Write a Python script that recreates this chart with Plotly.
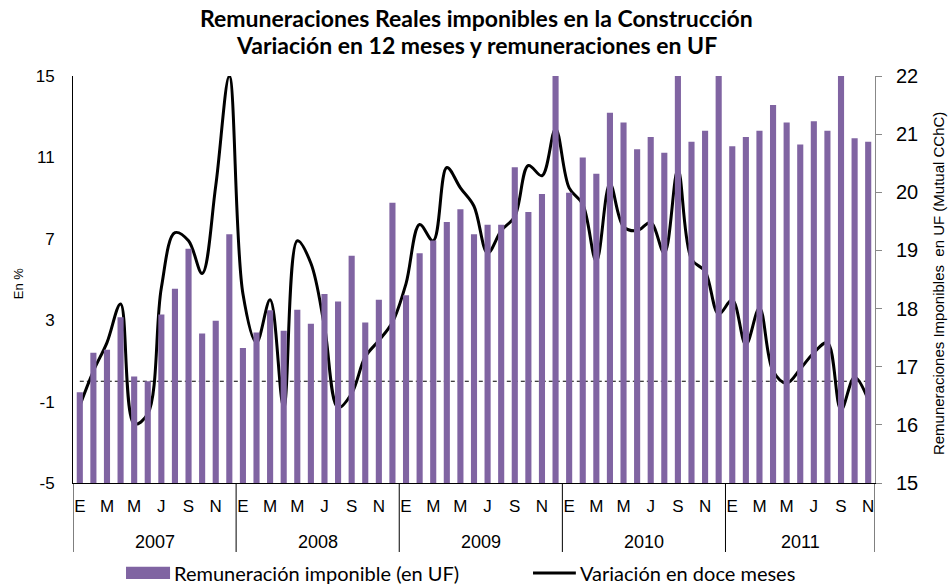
import plotly.graph_objects as go

years = ["2007", "2008", "2009", "2010", "2011"]
month_letters = ["E", "F", "M", "A", "M", "J", "J", "A", "S", "O", "N", "D"]
n_months = 59  # Jan 2007 .. Nov 2011
left_ticks = [-5, -1, 3, 7, 11, 15]
left_ticktext = ["-5", "-1", "3", "7", "11", "15"]

# Remuneración imponible (en UF) - right axis
remuneracion = [
    16.56, 17.24, 17.29, 17.85, 16.83, 16.75, 17.90, 18.34, 19.03, 17.57, 17.79, 19.28,
    17.32, 17.59, 17.97, 17.62, 17.98, 17.74, 18.25, 18.12, 18.91, 17.76, 18.15, 19.82,
    18.23, 18.95, 19.17, 19.49, 19.71, 19.28, 19.44, 19.44, 20.43, 19.66, 19.97, 22.30,
    19.99, 20.60, 20.32, 21.37, 21.20, 20.74, 20.95, 20.68, 22.30, 20.87, 21.06, 22.30,
    20.79, 20.95, 21.06, 21.50, 21.20, 20.82, 21.22, 21.06, 22.30, 20.93, 20.87,
]

# Variación en doce meses (%) - left axis
variacion = [
    -1.2, 0.5, 1.9, 3.8, -2.1, -1.6, 4.6, 7.3, 6.9, 5.3, 9.6, 15.0,
    4.3, 1.9, 4.0, -1.3, 6.9, 5.8, 2.7, -1.3, -0.6, 1.2, 2.0, 2.9,
    4.8, 7.7, 6.9, 10.5, 9.5, 8.6, 6.3, 7.4, 8.1, 10.6, 10.1, 12.4,
    9.5, 8.7, 5.9, 9.7, 7.6, 7.4, 7.8, 6.3, 10.4, 6.0, 5.4, 3.3,
    4.0, 1.8, 3.6, 0.5, -0.1, 0.6, 1.4, 1.9, -1.4, 0.2, -0.9,
]

referencia = [0] * n_months

x_idx = list(range(n_months))
tickvals = [i for i in x_idx if (i % 12) % 2 == 0]
ticktext = [month_letters[i % 12] for i in tickvals]

purple = "#8064A2"
arial = "Liberation Sans, Arial, sans-serif"
calib = "Lato, Carlito, Calibri, sans-serif"

fig = go.Figure()
fig.add_trace(go.Bar(
    x=x_idx, y=remuneracion, yaxis="y2", name="Remuneración imponible (en UF)",
    marker=dict(color=purple, line=dict(width=0)), width=0.45, showlegend=False,
))
fig.add_trace(go.Scatter(
    x=x_idx, y=referencia, mode="lines", showlegend=False,
    line=dict(color="black", width=1.2, dash="4px,3px"), hoverinfo="skip",
))
fig.add_trace(go.Scatter(
    x=x_idx, y=variacion, mode="lines", name="Variación en doce meses", showlegend=False,
    line=dict(color="black", width=3, shape="spline", smoothing=1.0),
))

shapes = []
annotations = []
for k, yr in enumerate(years):
    start = k * 12 - 0.5
    end = min(k * 12 + 11.5, n_months - 0.5)
    shapes.append(dict(type="line", xref="x", yref="paper", x0=start, x1=start,
                       y0=0, y1=-0.1695, line=dict(color="black", width=1)))
    annotations.append(dict(x=(start + end) / 2, y=-0.145, xref="x", yref="paper",
                            text=yr, showarrow=False, yanchor="middle",
                            font=dict(family=arial, size=18, color="black")))
shapes.append(dict(type="line", xref="x", yref="paper", x0=n_months - 0.5, x1=n_months - 0.5,
                   y0=0, y1=-0.1695, line=dict(color="black", width=1)))

# Titles
annotations.append(dict(x=0.5037, y=1.1425, xref="paper", yref="paper",
                        text="<b>Remuneraciones Reales imponibles en la Construcción</b>",
                        showarrow=False, xanchor="center", yanchor="middle",
                        font=dict(family=calib, size=23, color="black")))
annotations.append(dict(x=0.5037, y=1.0762, xref="paper", yref="paper",
                        text="<b>Variación en 12 meses y remuneraciones en UF</b>",
                        showarrow=False, xanchor="center", yanchor="middle",
                        font=dict(family=calib, size=23, color="black")))

# Axis titles
annotations.append(dict(x=-0.0686, y=0.491, xref="paper", yref="paper", text="En %",
                        showarrow=False, textangle=-90, xanchor="center", yanchor="middle",
                        font=dict(family=arial, size=13, color="black")))
annotations.append(dict(x=1.0785, y=0.491, xref="paper", yref="paper",
                        text="Remuneraciones Imponibles  en UF (Mutual CChC)",
                        showarrow=False, textangle=-90, xanchor="center", yanchor="middle",
                        font=dict(family=arial, size=15, color="black")))

# Custom legend
shapes.append(dict(type="rect", xref="paper", yref="paper", x0=0.0661, x1=0.121,
                   y0=-0.206, y1=-0.236, fillcolor=purple, line=dict(width=0)))
annotations.append(dict(x=0.1234, y=-0.221, xref="paper", yref="paper",
                        text="Remuneración imponible (en UF)", showarrow=False,
                        xanchor="left", yanchor="middle",
                        font=dict(family=calib, size=20, color="black")))
shapes.append(dict(type="line", xref="paper", yref="paper", x0=0.5736, x1=0.627,
                   y0=-0.221, y1=-0.221, line=dict(color="black", width=3)))
annotations.append(dict(x=0.6297, y=-0.221, xref="paper", yref="paper",
                        text="Variación en doce meses", showarrow=False,
                        xanchor="left", yanchor="middle",
                        font=dict(family=calib, size=20, color="black")))

fig.update_layout(
    width=949, height=585,
    margin=dict(l=73, r=74, t=76, b=102, autoexpand=False),
    paper_bgcolor="white", plot_bgcolor="white",
    xaxis=dict(range=[-0.5, n_months - 0.5], tickvals=tickvals, ticktext=ticktext,
               showgrid=False, showline=True, linecolor="black", linewidth=1,
               ticks="", tickfont=dict(family=arial, size=17, color="black"),
               ticklabelstandoff=8, zeroline=False, automargin=False),
    yaxis=dict(range=[-5, 15], tickvals=left_ticks, ticktext=left_ticktext, showgrid=False,
               showline=True, linecolor="black", linewidth=1, ticks="",
               tickfont=dict(family=arial, size=17, color="black"), zeroline=False,
               ticklabelstandoff=14, automargin=False),
    yaxis2=dict(range=[15, 22], dtick=1, overlaying="y", side="right", showgrid=False,
                showline=True, linecolor="#888888", linewidth=1, ticks="outside",
                ticklen=6, tickcolor="#888888", automargin=False,
                tickfont=dict(family=arial, size=20, color="black"), zeroline=False,
                ticklabelstandoff=10),
    bargap=0.5,
    shapes=shapes, annotations=annotations, showlegend=False,
)

fig.write_html("out.html", config={"displayModeBar": False},
               post_script="document.body.style.margin='0';document.body.style.overflow='hidden';")
